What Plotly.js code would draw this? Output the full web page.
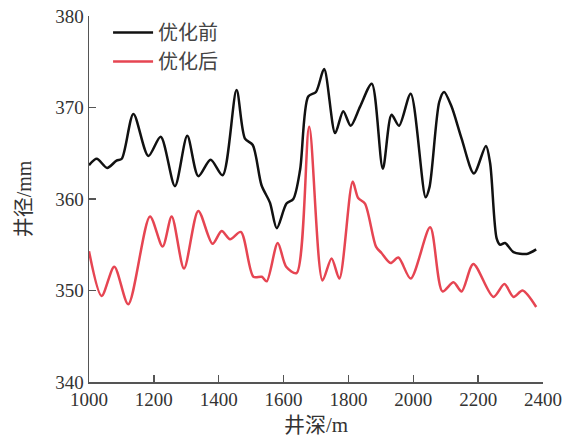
<!DOCTYPE html>
<html><head><meta charset="utf-8">
<script src="https://cdn.plot.ly/plotly-3.0.1.min.js"></script>
<style>body{margin:0;padding:0;}#chart{width:565px;height:437px;}</style>
</head><body><div id="chart"></div>
<script>
const seriesNames = ['优化前', '优化后'];
const depthBefore = [1000,1024,1056,1085,1101,1137,1183,1221,1265,1303,1337,1375,1412,1455,1481,1505,1532,1558,1579,1609,1630,1651,1676,1700,1725,1759,1784,1807,1836,1872,1906,1933,1956,1992,2038,2050,2080,2095,2118,2149,2187,2224,2237,2257,2268,2283,2309,2350,2379];
const valBefore = [363.7,364.4,363.4,364.2,364.4,369.3,364.7,366.8,361.4,366.9,362.5,364.3,362.6,371.9,366.6,365.9,361.5,359.6,356.8,359.5,360.0,363.2,371.2,371.7,374.2,367.2,369.6,368.0,370.1,372.6,363.3,369.2,368.0,371.5,360.2,361.3,370.6,371.7,370.1,366.6,362.8,365.8,363.9,355.7,355.0,355.2,354.2,354.0,354.5];
const depthAfter = [1000,1039,1078,1121,1188,1227,1255,1293,1337,1381,1409,1435,1468,1507,1533,1548,1582,1608,1640,1679,1720,1748,1772,1813,1830,1851,1885,1902,1930,1954,1992,2052,2090,2124,2149,2185,2247,2281,2309,2337,2379];
const valAfter = [354.3,349.4,352.6,348.5,358.1,354.8,358.1,352.4,358.7,355.1,356.5,355.6,356.4,351.5,351.5,351.0,355.2,352.6,351.9,367.9,351.1,353.5,351.3,361.9,360.1,359.5,354.8,354.1,353.0,353.6,351.3,356.9,349.9,350.9,349.9,352.9,349.3,350.7,349.3,350.0,348.2];
const xTicks = [1000,1200,1400,1600,1800,2000,2200,2400];
const yTicks = [340,350,360,370,380];

const FONT = 'Liberation Serif, Noto Sans CJK SC, serif';
const data = [
  {x: depthBefore, y: valBefore, name: seriesNames[0], mode: 'lines',
   line: {color: '#111111', width: 2.5, shape: 'spline', smoothing: 0.8}},
  {x: depthAfter, y: valAfter, name: seriesNames[1], mode: 'lines',
   line: {color: '#e64552', width: 2.5, shape: 'spline', smoothing: 0.8}}
];
const layout = {
  width: 565, height: 437,
  margin: {l: 89, r: 22, t: 16, b: 55},
  paper_bgcolor: '#ffffff', plot_bgcolor: '#ffffff',
  font: {family: FONT, size: 19, color: '#333333'},
  showlegend: true,
  legend: {x: 0.042, y: 1.008, xanchor: 'left', yanchor: 'top', bgcolor: 'rgba(0,0,0,0)',
           itemwidth: 40, tracegroupgap: 0,
           font: {family: 'Noto Sans CJK SC', size: 20, color: '#444444'}},
  xaxis: {range: [1000, 2400], tickvals: xTicks, ticktext: xTicks.map(String),
          showgrid: false, zeroline: false, showline: true, linecolor: '#555555', linewidth: 1.5,
          ticks: 'inside', ticklen: 7, tickcolor: '#555555', tickwidth: 1.5,
          tickfont: {family: FONT, size: 19, color: '#333333'},
          title: {text: '井深/m', font: {family: FONT, size: 21, color: '#333333'}, standoff: 14}},
  yaxis: {range: [340, 380], tickvals: yTicks, ticktext: yTicks.map(String),
          showgrid: false, zeroline: false, showline: true, linecolor: '#555555', linewidth: 1.5,
          ticks: 'inside', ticklen: 7, tickcolor: '#555555', tickwidth: 1.5,
          tickfont: {family: FONT, size: 19, color: '#333333'},
          title: {text: '井径/mm', font: {family: FONT, size: 20, color: '#333333'}, standoff: 18}}
};
Plotly.newPlot('chart', data, layout, {displayModeBar: false, staticPlot: true});
</script></body></html>
